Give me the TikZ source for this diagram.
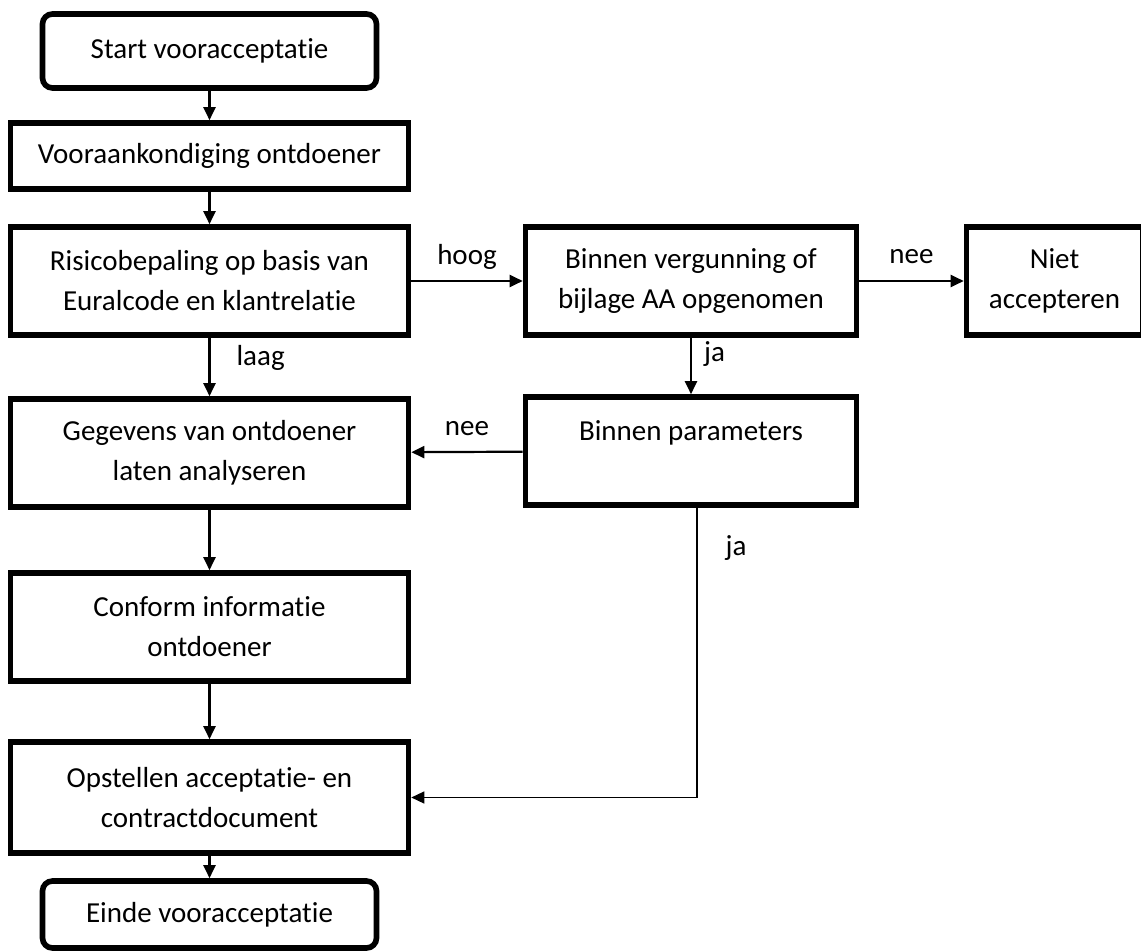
\documentclass[tikz,border=0pt]{standalone}
\usepackage{fontspec}
\setmainfont{Carlito}[Ligatures=NoCommon]
\usetikzlibrary{positioning, arrows.meta}
\tikzset{
  stap/.style     = {rectangle, draw=black, line width=2.8pt, align=center,
                     minimum width=199pt, minimum height=54pt,
                     font=\fontsize{14.5}{20}\selectfont, inner sep=2pt},
  terminal/.style = {stap, rounded corners=5pt, minimum width=167pt, minimum height=37pt},
  lab/.style      = {font=\fontsize{14.5}{20}\selectfont, inner sep=1pt,
                     text height=10pt, text depth=3pt},
  flow/.style     = {line width=1.1pt, -{Triangle[length=6.5pt, width=6pt]}},
  terug/.style    = {line width=0.7pt, -{Triangle[length=6.5pt, width=6pt]}},
}
\begin{document}
\begin{tikzpicture}[x=0.5pt, y=-0.5pt]
\useasboundingbox (0,0) rectangle (1141,952);

% Left column, top to bottom
\node (start) [terminal] at (209.5,51) {Start vooracceptatie};
\node (voor) [stap, below=14.7pt of start, minimum height=33pt] {Vooraankondiging ontdoener};
\node (risico) [stap, below=16.2pt of voor] {Risicobepaling op basis van\\Euralcode en klantrelatie};
\node (gegevens) [stap, below=29.2pt of risico] {Gegevens van ontdoener\\laten analyseren};
\node (conform) [stap, below=30.2pt of gegevens] {Conform informatie\\ontdoener};
\node (opstellen) [stap, below=27.7pt of conform, minimum height=55.5pt] {Opstellen acceptatie- en\\contractdocument};
\node (einde) [terminal, below=11.2pt of opstellen, minimum height=33.5pt] {Einde vooracceptatie};

% Right side: checks
\node (vergunning) [stap, right=55.7pt of risico, minimum width=165.5pt] {Binnen vergunning of\\bijlage AA opgenomen};
\node (niet) [stap, right=52.2pt of vergunning, minimum width=88pt] {Niet\\accepteren};
\node (parameters) [stap, below=28.2pt of vergunning, minimum width=165.5pt] {Binnen parameters\\\mbox{}};

% Main flow
\draw [flow] (start) -- (voor);
\draw [flow] (voor) -- (risico);
\draw [flow] (risico) -- node[lab, right=12pt, pos=0.35] {laag} (gegevens);
\draw [flow] (gegevens) -- (conform);
\draw [flow] (conform) -- (opstellen);
\draw [flow] (opstellen) -- (einde);

% Decisions
\draw [flow] (risico) -- node[lab, above=3.5pt] {hoog} (vergunning);
\draw [flow] (vergunning) -- node[lab, above=4pt] {nee} (niet);
\draw [flow] (vergunning) -- node[lab, right=5pt, pos=0.3] {ja} (parameters);
\draw [flow] (parameters) -- node[lab, above=3.5pt] {nee} (gegevens);
\draw [terug] ([xshift=3pt]parameters.south) |- node[lab, right=13pt, pos=0.07] {ja} (opstellen);

\end{tikzpicture}
\end{document}
